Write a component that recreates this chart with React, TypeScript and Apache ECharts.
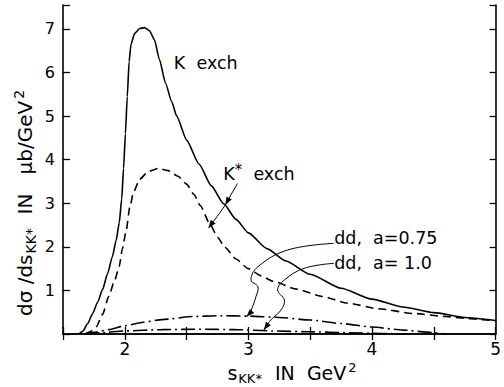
import React, { useEffect, useRef } from "react";
import * as echarts from "echarts";

// ---- data ----
const xLabelValues = [2, 3, 4, 5];
const yLabelValues = [1, 2, 3, 4, 5, 6, 7];

const kExch: [number, number][] = [
  [1.63, 0], [1.66, 0.06], [1.7, 0.24], [1.74, 0.47], [1.78, 0.73], [1.82, 1.02],
  [1.86, 1.38], [1.9, 1.78], [1.93, 2.15], [1.955, 2.55], [1.975, 3.1], [1.99, 3.8],
  [2.005, 4.6], [2.02, 5.45], [2.035, 6.25], [2.05, 6.65], [2.08, 6.9], [2.12, 7.01],
  [2.16, 7.03], [2.2, 6.96], [2.24, 6.75], [2.28, 6.3], [2.33, 5.75], [2.38, 5.33],
  [2.42, 5.0], [2.5, 4.45], [2.6, 3.9], [2.7, 3.4], [2.8, 2.99], [2.9, 2.63],
  [3.0, 2.32], [3.15, 1.96], [3.3, 1.68], [3.5, 1.37], [3.75, 1.05], [4.0, 0.8],
  [4.25, 0.62], [4.5, 0.49], [4.75, 0.38], [5.0, 0.31],
];

const kStarExch: [number, number][] = [
  [1.68, 0], [1.72, 0.05], [1.77, 0.17], [1.82, 0.45], [1.87, 0.86], [1.92, 1.25],
  [1.955, 1.55], [1.98, 1.95], [2.01, 2.35], [2.04, 2.9], [2.07, 3.25], [2.12, 3.55],
  [2.19, 3.73], [2.27, 3.8], [2.35, 3.75], [2.43, 3.62], [2.5, 3.44], [2.56, 3.2],
  [2.61, 2.95], [2.69, 2.52], [2.75, 2.22], [2.81, 1.99], [2.9, 1.72], [3.0, 1.5],
  [3.1, 1.34], [3.2, 1.21], [3.39, 1.03], [3.6, 0.86], [3.8, 0.71], [4.05, 0.58],
  [4.34, 0.47], [4.6, 0.4], [4.8, 0.35], [5.0, 0.3],
];

const dd075: [number, number][] = [
  [1.67, 0], [1.75, 0.04], [1.87, 0.1], [2.0, 0.19], [2.15, 0.27], [2.3, 0.33],
  [2.55, 0.4], [2.75, 0.42], [3.0, 0.41], [3.25, 0.38], [3.5, 0.32], [3.75, 0.24],
  [4.0, 0.16], [4.25, 0.09], [4.5, 0.03], [4.6, 0],
];

const dd10: [number, number][] = [
  [1.68, 0], [1.8, 0.03], [2.0, 0.07], [2.3, 0.1], [2.6, 0.11], [2.9, 0.1],
  [3.2, 0.07], [3.5, 0.05], [3.8, 0.03], [4.1, 0.01], [4.3, 0],
];

// annotation anchors, in data coordinates
const kLabelAt: [number, number] = [2.397, 6.216];
const kStarLabelAt: [number, number] = [2.797, 3.67];
const dd075LabelAt: [number, number] = [3.694, 2.202];
const dd10LabelAt: [number, number] = [3.694, 1.628];

const kStarArrow: [number, number][] = [
  [2.912, 3.456], [2.853, 3.165], [2.813, 2.959], [2.677, 2.431],
];
const dd075Arrow: [number, number][] = [
  [3.691, 2.08], [3.317, 1.927], [3.077, 1.544], [3.021, 1.239], [3.077, 1.085],
  [3.061, 0.856], [3.011, 0.475], [2.984, 0.397],
];
const dd10Arrow: [number, number][] = [
  [3.691, 1.622], [3.451, 1.507], [3.291, 1.239], [3.237, 1.009], [3.291, 0.78],
  [3.264, 0.55], [3.181, 0.321], [3.125, 0.092],
];

const FONT = "DejaVu Sans";

export default function App() {
  const ref = useRef<HTMLDivElement>(null);

  useEffect(() => {
    const chart = echarts.init(ref.current!, null, { renderer: "svg" });

    const lineBase = { show: true, lineStyle: { color: "#000", width: 1.6 } };
    const xLabelFmt = (v: number) => (xLabelValues.includes(v) ? String(v) : "");
    const yLabelFmt = (v: number) => (yLabelValues.includes(v) ? String(v) : "");

    const mkSeries = (data: [number, number][], type: any) => ({
      type: "line",
      data,
      showSymbol: false,
      smooth: 0.2,
      smoothMonotone: "x",
      lineStyle: { color: "#000", width: 1.6, type },
      silent: true,
    });

    chart.setOption({
      animation: false,
      backgroundColor: "#fff",
      grid: { left: 63, right: 4, top: 5, bottom: 53 },
      xAxis: [
        {
          type: "value",
          min: 1.5,
          max: 5,
          interval: 0.5,
          position: "bottom",
          axisLine: lineBase,
          axisTick: { show: true, inside: true, length: 7, lineStyle: { color: "#000", width: 1.3 } },
          axisLabel: { formatter: xLabelFmt, color: "#000", fontSize: 17, fontFamily: FONT, margin: 6 },
          splitLine: { show: false },
        },
        {
          type: "value",
          min: 1.5,
          max: 5,
          interval: 0.5,
          position: "top",
          axisLine: lineBase,
          axisTick: { show: true, inside: true, length: 6, lineStyle: { color: "#000", width: 1.3 } },
          axisLabel: { show: false },
          splitLine: { show: false },
        },
      ],
      yAxis: [
        {
          type: "value",
          min: 0,
          max: 7.55,
          interval: 1,
          position: "left",
          axisLine: lineBase,
          axisTick: { show: true, inside: true, length: 7, lineStyle: { color: "#000", width: 1.3 } },
          axisLabel: { formatter: yLabelFmt, color: "#000", fontSize: 16, fontFamily: FONT, margin: 8 },
          splitLine: { show: false },
        },
        {
          type: "value",
          min: 0,
          max: 7.55,
          interval: 1,
          position: "right",
          axisLine: lineBase,
          axisTick: { show: true, inside: true, length: 6, lineStyle: { color: "#000", width: 1.3 } },
          axisLabel: { show: false },
          splitLine: { show: false },
        },
      ],
      series: [
        mkSeries(kExch, "solid"),
        mkSeries(kStarExch, [8, 5]),
        mkSeries(dd075, [14, 4, 2, 4]),
        mkSeries(dd10, [14, 4, 2, 4]),
      ],
    });

    const P = (p: [number, number]) => chart.convertToPixel({ gridIndex: 0 }, p) as number[];

    const arrowHead = (a: number[], b: number[]) => {
      const dx = b[0] - a[0];
      const dy = b[1] - a[1];
      const l = Math.hypot(dx, dy) || 1;
      const ux = dx / l, uy = dy / l;
      const L = 8, W = 3;
      return {
        type: "polygon",
        shape: {
          points: [
            [b[0], b[1]],
            [b[0] - ux * L - uy * W, b[1] - uy * L + ux * W],
            [b[0] - ux * L + uy * W, b[1] - uy * L - ux * W],
          ],
        },
        style: { fill: "#000" },
        silent: true,
      };
    };

    const arrow = (pts: [number, number][], midHeadIndex?: number) => {
      const px = pts.map(P);
      const els: any[] = [
        {
          type: "polyline",
          shape: { points: px, smooth: 0.4 },
          style: { stroke: "#000", lineWidth: 1, fill: null },
          silent: true,
        },
        arrowHead(px[px.length - 2], px[px.length - 1]),
      ];
      if (midHeadIndex !== undefined) {
        els.push(arrowHead(px[midHeadIndex - 1], px[midHeadIndex]));
      }
      return els;
    };

    const label = (at: [number, number], text: string) => {
      const p = P(at);
      return {
        type: "text",
        x: p[0],
        y: p[1],
        silent: true,
        style: {
          text,
          fill: "#000",
          fontSize: 17,
          fontFamily: FONT,
          align: "left",
          verticalAlign: "middle",
          rich: {
            n: { fontSize: 17.5, fontFamily: FONT, verticalAlign: "middle", lineHeight: 24, fill: "#000" },
            p: { fontSize: 15, fontFamily: FONT, verticalAlign: "top", lineHeight: 15, fill: "#000" },
          },
        },
      };
    };

    const richX = {
      s: { fontSize: 13, fontFamily: FONT, fill: "#000", verticalAlign: "bottom", lineHeight: 13, padding: [0, 1, 0, 1] },
      p: { fontSize: 13, fontFamily: FONT, fill: "#000", verticalAlign: "top", lineHeight: 13, padding: [0, 0, 0, 2] },
      n: { fontSize: 19, fontFamily: FONT, fill: "#000", lineHeight: 24, verticalAlign: "middle" },
    };
    const richY = {
      s: { fontSize: 14, fontFamily: FONT, fill: "#000", verticalAlign: "bottom", lineHeight: 14, padding: [0, 1, 0, 1] },
      p: { fontSize: 14, fontFamily: FONT, fill: "#000", verticalAlign: "top", lineHeight: 14, padding: [0, 0, 0, 2] },
      n: { fontSize: 20, fontFamily: FONT, fill: "#000", lineHeight: 26, verticalAlign: "middle" },
    };

    chart.setOption({
      graphic: [
        label(kLabelAt, "{n|K  exch}"),
        label(kStarLabelAt, "{n|K}{p|*}{n|  exch}"),
        label(dd075LabelAt, "{n|dd,  a=0.75}"),
        label(dd10LabelAt, "{n|dd,  a= 1.0}"),
        ...arrow(kStarArrow, 2),
        ...arrow(dd075Arrow),
        ...arrow(dd10Arrow),
        {
          type: "text",
          x: 25,
          y: 203,
          rotation: Math.PI / 2,
          silent: true,
          style: {
            text: "{n|dσ /ds}{s|KK*}{n|  IN   μb/GeV}{p|2}",
            fill: "#000",
            fontSize: 20,
            fontFamily: FONT,
            align: "center",
            verticalAlign: "middle",
            rich: richY,
          },
        },
        {
          type: "text",
          x: 292,
          y: 373,
          silent: true,
          style: {
            text: "{n|s}{s|KK*}{n|  IN  GeV}{p|2}",
            fill: "#000",
            fontSize: 19,
            fontFamily: FONT,
            align: "center",
            verticalAlign: "middle",
            rich: richX,
          },
        },
      ],
    });

    return () => chart.dispose();
  }, []);

  return (
    <div
      ref={ref}
      style={{ position: "absolute", left: 0, top: 0, width: 504, height: 387 }}
    />
  );
}
